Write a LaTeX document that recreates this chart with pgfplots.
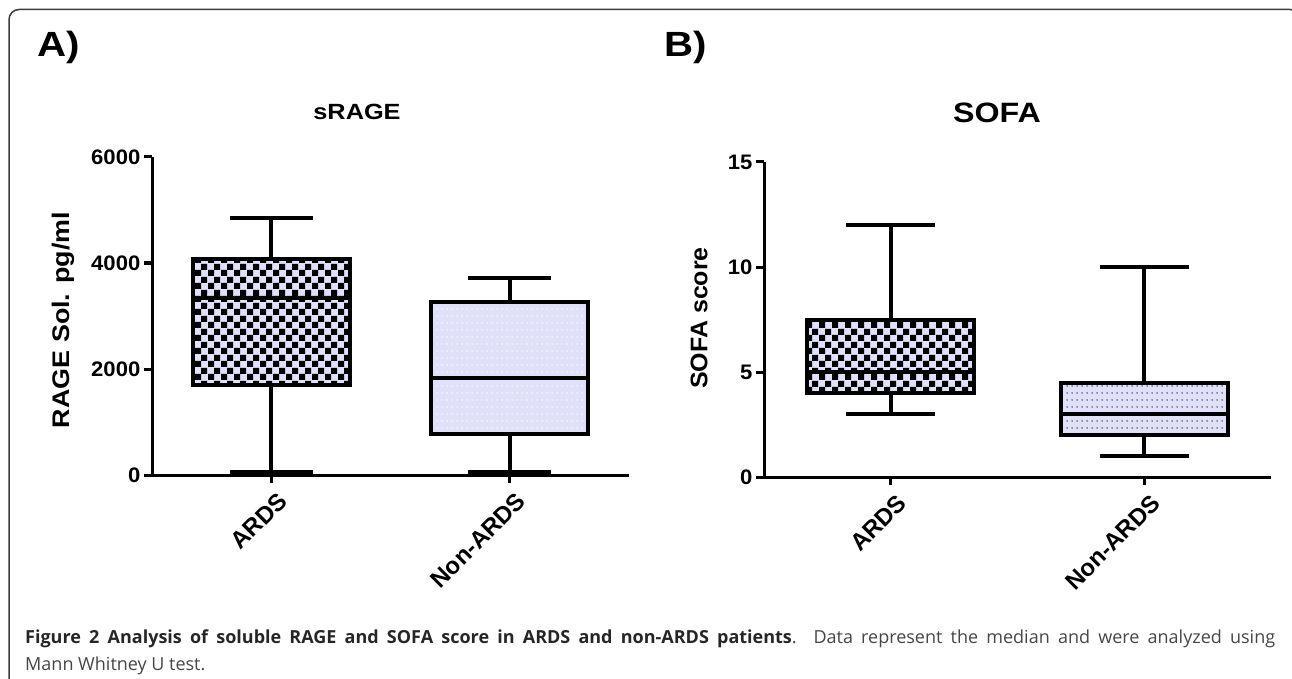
\documentclass[border=0pt]{standalone}
\usepackage{fontspec}
\setmainfont{Liberation Sans}
\newfontfamily\capfont{Open Sans}
\usepackage{pgfplots}
\pgfplotsset{compat=1.18}
\usepgfplotslibrary{statistics}
\usetikzlibrary{patterns}

\definecolor{lav}{RGB}{224,224,250}
\definecolor{framegray}{RGB}{60,60,60}
\definecolor{capgray}{RGB}{70,70,70}

% checkerboard with 6.5pt squares
\pgfdeclarepatternformonly{bigcheck}{\pgfpointorigin}{\pgfqpoint{13pt}{13pt}}{\pgfqpoint{13pt}{13pt}}{%
  \pgfpathrectangle{\pgfpointorigin}{\pgfqpoint{6.5pt}{6.5pt}}%
  \pgfpathrectangle{\pgfqpoint{6.5pt}{6.5pt}}{\pgfqpoint{6.5pt}{6.5pt}}%
  \pgfusepath{fill}}
% rows of small dots
\pgfdeclarepatternformonly{rowdots}{\pgfpointorigin}{\pgfqpoint{5pt}{6.5pt}}{\pgfqpoint{5pt}{6.5pt}}{%
  \pgfpathcircle{\pgfqpoint{2.5pt}{3.25pt}}{0.9pt}%
  \pgfusepath{fill}}

\pgfplotsset{
  prism/.style={
    scale only axis,
    axis x line=bottom, axis y line=left,
    axis line style={-, line width=3pt, black},
    xmin=0.5, xmax=2.5,
    xtick={1,2}, xticklabels={ARDS,Non-ARDS},
    tick align=outside, major tick length=8pt,
    tick style={black, line width=3pt},
    yticklabel style={font=\fontsize{21}{21}\selectfont\bfseries, xscale=1.05},
    xticklabel style={font=\fontsize{24}{24}\selectfont\bfseries,
      rotate=45, anchor=north east, yshift=-6pt, xshift=2pt},
    /pgf/number format/assume math mode=true,
    /pgf/number format/1000 sep={},
    scaled y ticks=false,
    boxplot/draw direction=y,
    boxplot/box extend=0.66,
    boxplot/whisker extend=0.35,
    clip=false,
  },
  checkbox/.style={boxplot/every box/.style={fill=lav, postaction={pattern=bigcheck}}},
  dotbox/.style={boxplot/every box/.style={fill=lav, postaction={pattern=rowdots, pattern color=#1}}},
}

\begin{document}
\begin{tikzpicture}
\useasboundingbox (0pt,0pt) rectangle (1292pt,678pt);
\draw[framegray, line width=1.5pt, rounded corners=10pt]
  (9pt,-10pt) -- (9pt,668.5pt) -- (1300pt,668.5pt) -- (1300pt,-10pt);

\node[anchor=base west, inner sep=0, xscale=1.15, font=\fontsize{35}{35}\selectfont\bfseries] at (37pt,621pt) {A)};
\node[anchor=base west, inner sep=0, xscale=1.15, font=\fontsize{35}{35}\selectfont\bfseries] at (664pt,621pt) {B)};

\node[xscale=1.15, font=\fontsize{22}{22}\selectfont\bfseries] at (357pt,566pt) {sRAGE};
\node[xscale=1.15, font=\fontsize{28}{28}\selectfont\bfseries] at (997pt,565pt) {SOFA};

\node[rotate=90, font=\fontsize{24}{24}\selectfont\bfseries] at (63pt,358pt) {\scalebox{1.12}[1]{RAGE Sol. pg/ml}};
\node[rotate=90, font=\fontsize{24}{24}\selectfont\bfseries] at (699pt,360pt) {\scalebox{1.04}[1]{SOFA score}};

% A) sRAGE
\begin{axis}[prism, at={(152pt,203pt)}, anchor=south west,
  width=477pt, height=318pt,
  ymin=0, ymax=6000, ytick={0,2000,4000,6000}]
\addplot[black, line width=4pt, checkbox,
  boxplot prepared={draw position=1, median=3340, upper quartile=4075,
  lower quartile=1700, upper whisker=4850, lower whisker=60}]
  coordinates {};
\addplot[black, line width=4pt, dotbox=white,
  boxplot prepared={draw position=2, median=1830, upper quartile=3270,
  lower quartile=770, upper whisker=3717, lower whisker=60}]
  coordinates {};
\end{axis}

% B) SOFA
\begin{axis}[prism, at={(764pt,201pt)}, anchor=south west,
  width=507pt, height=315pt,
  ymin=0, ymax=15, ytick={0,5,10,15}]
\addplot[black, line width=4pt, checkbox,
  boxplot prepared={draw position=1, median=5, upper quartile=7.5,
  lower quartile=4, upper whisker=12, lower whisker=3}]
  coordinates {};
\addplot[black, line width=4pt, dotbox=black!75,
  boxplot prepared={draw position=2, median=3, upper quartile=4.5,
  lower quartile=2, upper whisker=10, lower whisker=1}]
  coordinates {};
\end{axis}

\node[anchor=base west, inner sep=0, text=capgray] at (25pt,35pt)
  {\capfont\fontsize{18}{18}\selectfont\makebox[1250pt][s]{\textbf{\color{black!85}Figure 2 Analysis of soluble RAGE and SOFA score in ARDS and non-ARDS patients}. Data represent the median and were analyzed using}};
\node[anchor=base west, inner sep=0, text=capgray] at (25pt,8pt)
  {\capfont\fontsize{18}{18}\selectfont Mann Whitney U test.};
\end{tikzpicture}
\end{document}
